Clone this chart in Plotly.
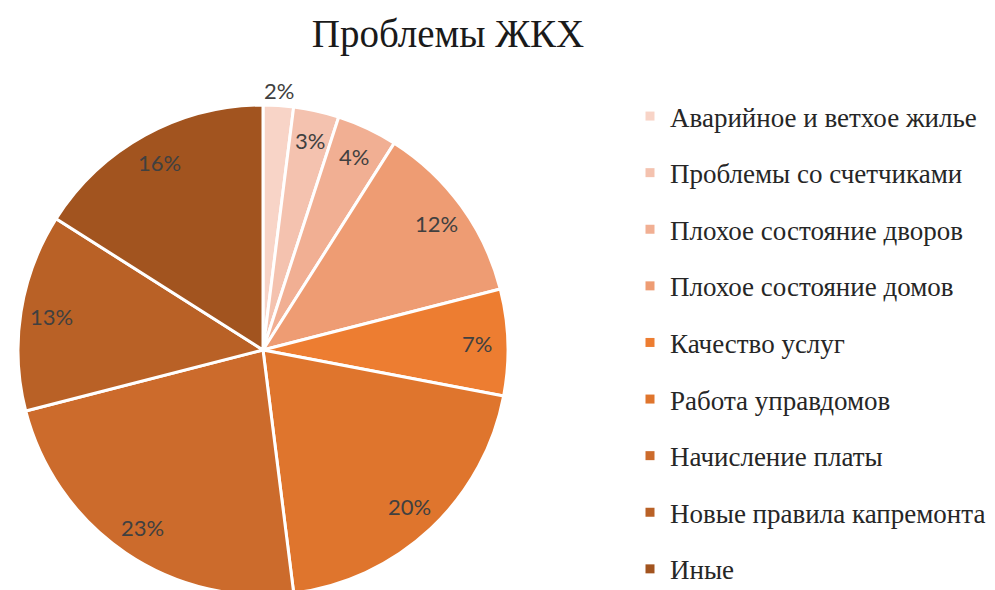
import math
import plotly.graph_objects as go

categories = [
    "Аварийное и ветхое жилье",
    "Проблемы со счетчиками",
    "Плохое состояние дворов",
    "Плохое состояние домов",
    "Качество услуг",
    "Работа управдомов",
    "Начисление платы",
    "Новые правила капремонта",
    "Иные",
]
values = [2, 3, 4, 12, 7, 20, 23, 13, 16]
colors = ["#F8D4C7", "#F4C2AF", "#F1AF93", "#EE9C73", "#ED7D31",
          "#DF752D", "#CC6B2C", "#B96126", "#A2541F"]

W, H = 995, 590
OFF = 8  # page body margin
cx, cy, R = 263 - OFF, 350 - OFF, 245  # pixel layout of the pie (figure coords)

fig = go.Figure()
fig.add_trace(go.Pie(
    labels=categories, values=values, sort=False, direction="clockwise",
    rotation=0, textinfo="none", hoverinfo="label+percent",
    marker=dict(colors=colors, line=dict(color="white", width=3)),
    domain=dict(x=[(cx - R) / W, (cx + R) / W], y=[(H - cy - R) / H, (H - cy + R) / H]),
    showlegend=False,
))

# percent labels positioned from data (mid-angle of each slice)
total = sum(values)
cum = 0
annotations = []
for i, v in enumerate(values):
    mid = (cum + v / 2) / total * 2 * math.pi
    cum += v
    rf = 1.06 if i == 0 else 0.875
    px = cx + rf * R * math.sin(mid)
    py = cy - rf * R * math.cos(mid)
    annotations.append(dict(
        x=px / W, y=1 - py / H, xref="paper", yref="paper",
        text=f"{round(v / total * 100)}%", showarrow=False,
        font=dict(family="Lato", size=22, color="#404040"),
        xanchor="center", yanchor="middle",
    ))

for name, c in zip(categories, colors):
    fig.add_trace(go.Scatter(
        x=[None], y=[None], mode="markers", name=name, legendgroup=name,
        marker=dict(symbol="square", size=9, color=c),
    ))

fig.update_layout(
    width=W, height=H,
    margin=dict(l=0, r=0, t=0, b=0, autoexpand=False),
    paper_bgcolor="white", plot_bgcolor="white",
    title=dict(text="Проблемы ЖКХ", x=(448 - OFF) / W, xanchor="center",
               y=1 - (33 - OFF) / H, yanchor="middle",
               font=dict(family="Liberation Serif", size=39, color="#1a1a1a")),
    xaxis=dict(visible=False), yaxis=dict(visible=False),
    legend=dict(x=(630 - OFF) / W, xanchor="left", y=1 - (92 - OFF) / H, yanchor="top",
                traceorder="grouped", tracegroupgap=18.5, maxheight=H,
                font=dict(family="Liberation Serif", size=27, color="#262626"),
                bgcolor="rgba(0,0,0,0)"),
    annotations=annotations,
)

fig.write_html("out.html")
